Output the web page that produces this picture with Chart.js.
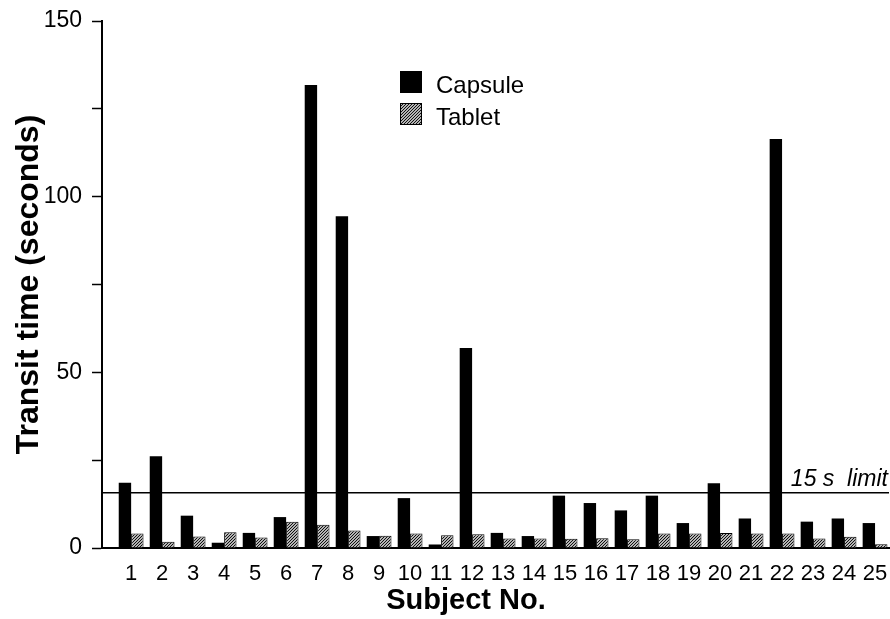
<!DOCTYPE html>
<html>
<head>
<meta charset="utf-8">
<script src="https://cdn.jsdelivr.net/npm/chart.js@4.4.1/dist/chart.umd.min.js"></script>
<style>
    html, body { margin: 0; padding: 0; background: #ffffff; }
    #wrap { width: 890px; height: 619px; position: relative; }
</style>
</head>
<body>
<div id="wrap"><canvas id="transitChart"></canvas></div>
<script>
// Datos
const subjects = [1, 2, 3, 4, 5, 6, 7, 8, 9, 10, 11, 12, 13, 14, 15, 16, 17, 18, 19, 20, 21, 22, 23, 24, 25];
const capsule = [18.6, 26.1, 9.2, 1.5, 4.3, 8.8, 131.8, 94.4, 3.4, 14.2, 1.0, 56.9, 4.3, 3.4, 14.9, 12.8, 10.7, 14.9, 7.1, 18.4, 8.4, 116.4, 7.5, 8.4, 7.1];
const tablet = [4.1, 1.8, 3.3, 4.5, 3.0, 7.5, 6.6, 5.0, 3.5, 4.1, 3.6, 3.9, 2.7, 2.7, 2.6, 2.8, 2.5, 4.1, 4.1, 4.3, 4.1, 4.1, 2.7, 3.2, 1.1];
const yLabelTicks = [0, 50, 100, 150];
const limitValue = 15.75;
const limitLabel = '15 s  limit';
const xTitle = 'Subject No.';

const FONT = "'Liberation Sans', Arial, Helvetica, sans-serif";

// Patrón rayado para "Tablet"
function makeHatch() {
    const c = document.createElement('canvas');
    c.width = 3; c.height = 3;
    const g = c.getContext('2d');
    g.fillStyle = '#b4b4b4';
    g.fillRect(0, 0, 3, 3);
    g.fillStyle = '#111111';
    for (let x = 0; x < 3; x++) {
        for (let y = 0; y < 3; y++) {
            if ((x + y) % 3 === 2) g.fillRect(x, y, 1, 1);
        }
    }
    return g.createPattern(c, 'repeat');
}

// Línea de límite y su rótulo
const limitPlugin = {
    id: 'limitLine',
    afterDatasetsDraw(chart) {
        const { ctx, chartArea, scales } = chart;
        const y = scales.y.getPixelForValue(limitValue);
        ctx.save();
        ctx.strokeStyle = '#000';
        ctx.lineWidth = 1.5;
        ctx.beginPath();
        ctx.moveTo(chartArea.left, y);
        ctx.lineTo(chartArea.right, y);
        ctx.stroke();
        ctx.fillStyle = '#000';
        ctx.font = 'italic 23px ' + FONT;
        ctx.textAlign = 'right';
        ctx.textBaseline = 'alphabetic';
        ctx.fillText(limitLabel, chartArea.right - 1, y - 7);
        ctx.restore();
    }
};

// Leyenda dentro del área y título del eje X (desplazado a la izquierda como en la figura)
const extrasPlugin = {
    id: 'extras',
    afterDraw(chart) {
        const { ctx } = chart;
        ctx.save();
        ctx.font = '24px ' + FONT;
        ctx.textBaseline = 'alphabetic';
        ctx.textAlign = 'left';
        chart.data.datasets.forEach((ds, i) => {
            const top = 71 + i * 32;
            ctx.fillStyle = ds.backgroundColor;
            ctx.fillRect(400, top, 22, 22);
            ctx.strokeStyle = '#000';
            ctx.lineWidth = 1;
            ctx.strokeRect(400.5, top + 0.5, 21, 21);
            ctx.fillStyle = '#000';
            ctx.fillText(ds.label, 436, top + 22);
        });

        ctx.font = 'bold 29px ' + FONT;
        ctx.textAlign = 'center';
        ctx.fillStyle = '#000';
        ctx.fillText(xTitle, 466, 609);
        ctx.restore();
    }
};

const ctx = document.getElementById('transitChart').getContext('2d');
new Chart(ctx, {
    type: 'bar',
    data: {
        datasets: [{
            label: 'Capsule',
            data: subjects.map((s, i) => ({ x: s, y: capsule[i] })),
            backgroundColor: '#000000',
            borderWidth: 0
        }, {
            label: 'Tablet',
            data: subjects.map((s, i) => ({ x: s, y: tablet[i] })),
            backgroundColor: makeHatch(),
            borderColor: '#000000',
            borderWidth: 1
        }]
    },
    options: {
        responsive: true,
        maintainAspectRatio: false,
        animation: false,
        layout: { padding: { top: 21, right: 1, left: 0, bottom: 0 } },
        datasets: {
            bar: { categoryPercentage: 0.8, barPercentage: 1.0 }
        },
        plugins: {
            legend: { display: false },
            tooltip: { enabled: false }
        },
        scales: {
            x: {
                type: 'linear',
                min: 0.06,
                max: 25.45,
                offset: false,
                afterBuildTicks: axis => { axis.ticks = subjects.map(v => ({ value: v })); },
                afterFit: axis => { axis.height = 71; axis.paddingLeft = 0; axis.paddingRight = 0; },
                grid: { display: false },
                border: { display: true, color: '#000', width: 2 },
                ticks: {
                    autoSkip: false,
                    maxRotation: 0,
                    padding: 5,
                    color: '#000',
                    font: { family: FONT, size: 22 }
                }
            },
            y: {
                min: 0,
                max: 150,
                afterBuildTicks: axis => {
                    axis.ticks = [0, 25, 50, 75, 100, 125, 150].map(v => ({ value: v }));
                },
                afterFit: axis => { axis.width = 102; axis.paddingTop = 0; axis.paddingBottom = 0; },
                grid: {
                    drawOnChartArea: false,
                    drawTicks: true,
                    tickLength: 10,
                    tickWidth: 1.5,
                    color: '#000'
                },
                border: { display: true, color: '#000', width: 2 },
                ticks: {
                    padding: 10,
                    color: '#000',
                    font: { family: FONT, size: 23 },
                    callback: v => yLabelTicks.includes(v) ? v : ''
                },
                title: {
                    display: true,
                    text: 'Transit time (seconds)',
                    color: '#000',
                    font: { family: FONT, size: 32, weight: 'bold' },
                    padding: { top: 10, bottom: 0 }
                }
            }
        }
    },
    plugins: [limitPlugin, extrasPlugin]
});
</script>
</body>
</html>
